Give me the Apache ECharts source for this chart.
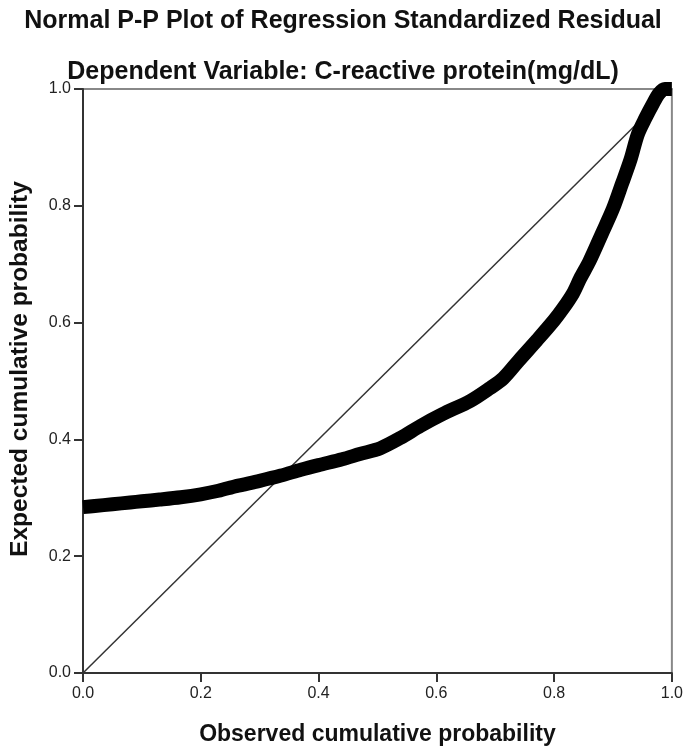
<!DOCTYPE html>
<html>
<head>
<meta charset="utf-8">
<script src="https://cdn.jsdelivr.net/npm/echarts@6/dist/echarts.min.js"></script>
<style>html,body{margin:0;padding:0;background:#fff;}#c{width:686px;height:751px;}</style>
</head>
<body>
<div id="c"></div>
<script>
var titleText = 'Normal P-P Plot of Regression Standardized Residual';
var subtitleText = 'Dependent Variable: C-reactive protein(mg/dL)';
var xName = 'Observed cumulative probability';
var yName = 'Expected cumulative probability';
var tickValues = [0, 0.2, 0.4, 0.6, 0.8, 1.0];
var observed = [0.000,0.02,0.05,0.08,0.10,0.13,0.166,0.20,0.23,0.26,0.30,0.336,0.37,0.40,0.44,0.47,0.505,0.54,0.573,0.61,0.658,0.69,0.714,0.74,0.771,0.80,0.815,0.832,0.844,0.86,0.881,0.90,0.915,0.93,0.942,0.955,0.968,0.978,0.988,1.0];
var expected = [0.284,0.286,0.289,0.292,0.294,0.297,0.301,0.306,0.312,0.320,0.329,0.338,0.348,0.356,0.366,0.375,0.385,0.403,0.423,0.443,0.466,0.487,0.505,0.535,0.570,0.604,0.624,0.650,0.675,0.705,0.752,0.795,0.837,0.880,0.922,0.950,0.975,0.992,1.0,1.0];
var diagonal = [[0,0],[1,1]];

var pts = observed.map(function(v,i){return [v, expected[i]];});
var font = 'Liberation Sans, Arial, sans-serif';
var chart = echarts.init(document.getElementById('c'));
chart.setOption({
  animation: false,
  backgroundColor: '#fff',
  title: [
    {text: titleText, left: 'center', top: 4, textStyle: {fontFamily: font, fontSize: 25, fontWeight: 'bold', color: '#111'}},
    {text: subtitleText, left: 'center', top: 55, textStyle: {fontFamily: font, fontSize: 25, fontWeight: 'bold', color: '#111'}}
  ],
  grid: {left: 82, right: 14, top: 89, bottom: 74, show: true, borderColor: '#888', borderWidth: 2, backgroundColor: '#fff'},
  xAxis: {
    type: 'value', min: 0, max: 1, interval: 0.2,
    name: xName, nameLocation: 'middle', nameGap: 50,
    nameTextStyle: {fontFamily: font, fontSize: 23, fontWeight: 'bold', color: '#111'},
    axisLine: {show: true, lineStyle: {color: '#333', width: 2}},
    axisTick: {show: true, length: 9, lineStyle: {color: '#333', width: 2}},
    axisLabel: {fontFamily: font, fontSize: 16, color: '#222', margin: 13, formatter: function(v){return v.toFixed(1);}},
    splitLine: {show: false}
  },
  yAxis: {
    type: 'value', min: 0, max: 1, interval: 0.2,
    name: yName, nameLocation: 'middle', nameGap: 50, nameRotate: 90,
    nameTextStyle: {fontFamily: font, fontSize: 24.5, fontWeight: 'bold', color: '#111', padding: [0, 0, 0, 24]},
    axisLine: {show: true, lineStyle: {color: '#333', width: 2}},
    axisTick: {show: true, length: 9, lineStyle: {color: '#333', width: 2}},
    axisLabel: {fontFamily: font, fontSize: 16, color: '#222', margin: 12, formatter: function(v){return v.toFixed(1);}},
    splitLine: {show: false}
  },
  series: [
    {type: 'line', data: diagonal, showSymbol: false, symbol: 'none', lineStyle: {color: '#333', width: 1.5}, z: 2, silent: true},
    {type: 'line', data: pts, smooth: 0.3, showSymbol: false, symbol: 'none', clip: true,
     lineStyle: {color: '#000', width: 14, cap: 'butt', join: 'round'}, z: 3, silent: true}
  ]
});
</script>
</body>
</html>
